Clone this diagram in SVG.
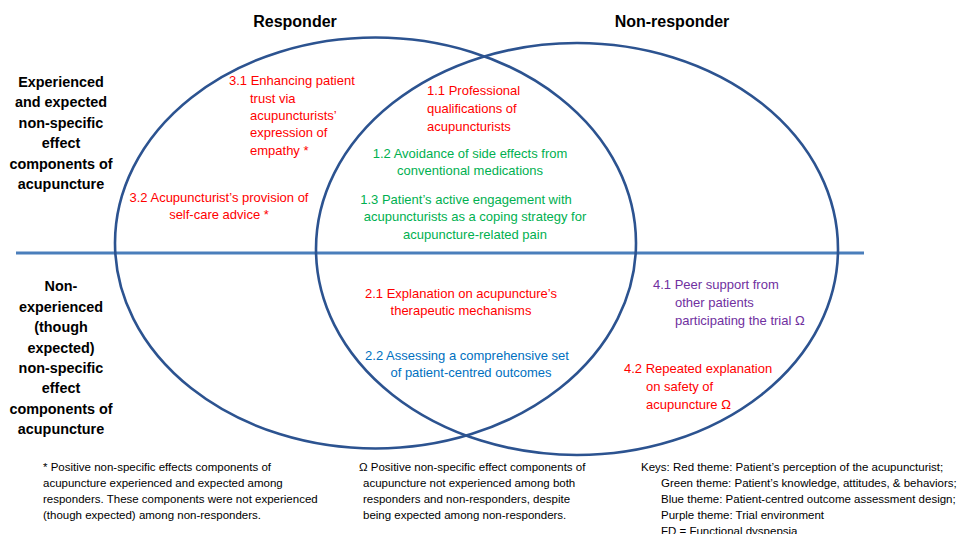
<svg xmlns="http://www.w3.org/2000/svg" width="973" height="534" viewBox="0 0 973 534">
<style>
text{font-family:"Liberation Sans",Arial,sans-serif}
.h{font-size:16px;font-weight:bold;fill:#000;text-anchor:middle}
.side{font-size:14.4px;font-weight:bold;fill:#000;text-anchor:middle}
.t{font-size:13px}
.r{fill:#ff0000}
.g{fill:#00b050}
.b{fill:#0070c0}
.p{fill:#7030a0}
.c{text-anchor:middle}
.f{font-size:11.5px;fill:#000}
.ell{fill:none;stroke:#2c5390;stroke-width:2.6}
.div{stroke:#4a7ebb;stroke-width:3}
</style>
<rect width="973" height="534" fill="#fff"/>
<g id="connectors">
<line class="div" x1="16" y1="253" x2="864" y2="253"/>
</g>
<g id="responder">
<ellipse class="ell" cx="375.5" cy="243" rx="260.5" ry="205.5"/>
<text class="h" x="295" y="27">Responder</text>
</g>
<g id="non-responder">
<ellipse class="ell" cx="577" cy="249" rx="261" ry="206"/>
<text class="h" x="672" y="27">Non-responder</text>
</g>
<g id="row-experienced">
<text class="side" x="61" y="87">Experienced</text>
<text class="side" x="61" y="107">and expected</text>
<text class="side" x="61" y="128">non-specific</text>
<text class="side" x="61" y="148">effect</text>
<text class="side" x="61" y="169">components of</text>
<text class="side" x="61" y="189">acupuncture</text>
</g>
<g id="row-non-experienced">
<text class="side" x="61" y="291">Non-</text>
<text class="side" x="61" y="312">experienced</text>
<text class="side" x="61" y="332">(though</text>
<text class="side" x="61" y="353">expected)</text>
<text class="side" x="61" y="373">non-specific</text>
<text class="side" x="61" y="393">effect</text>
<text class="side" x="61" y="414">components of</text>
<text class="side" x="61" y="434">acupuncture</text>
</g>
<g id="n3-1">
<text class="t r" x="229" y="85">3.1 Enhancing patient</text>
<text class="t r" x="250" y="103">trust via</text>
<text class="t r" x="250" y="120">acupuncturists’</text>
<text class="t r" x="250" y="137">expression of</text>
<text class="t r" x="250" y="155">empathy *</text>
</g>
<g id="n3-2">
<text class="t r c" x="219" y="202">3.2 Acupuncturist’s provision of</text>
<text class="t r c" x="219" y="219">self-care advice *</text>
</g>
<g id="n1-1">
<text class="t r" x="427" y="95">1.1 Professional</text>
<text class="t r" x="427" y="113">qualifications of</text>
<text class="t r" x="427" y="131">acupuncturists</text>
</g>
<g id="n1-2">
<text class="t g c" x="470" y="158">1.2 Avoidance of side effects from</text>
<text class="t g c" x="470" y="175">conventional medications</text>
</g>
<g id="n1-3">
<text class="t g c" x="466" y="204">1.3 Patient’s active engagement with</text>
<text class="t g c" x="475" y="221">acupuncturists as a coping strategy for</text>
<text class="t g c" x="475" y="239">acupuncture-related pain</text>
</g>
<g id="n2-1">
<text class="t r c" x="461" y="298">2.1 Explanation on acupuncture’s</text>
<text class="t r c" x="461" y="315">therapeutic mechanisms</text>
</g>
<g id="n2-2">
<text class="t b c" x="467" y="360">2.2 Assessing a comprehensive set</text>
<text class="t b c" x="471" y="377">of patient-centred outcomes</text>
</g>
<g id="n4-1">
<text class="t p" x="653" y="289">4.1 Peer support from</text>
<text class="t p" x="675" y="307">other patients</text>
<text class="t p" x="675" y="325">participating the trial Ω</text>
</g>
<g id="n4-2">
<text class="t r" x="624" y="373">4.2 Repeated explanation</text>
<text class="t r" x="646" y="391">on safety of</text>
<text class="t r" x="646" y="409">acupuncture Ω</text>
</g>
<g id="note-star">
<text class="f" x="43" y="471">* Positive non-specific effects components of</text>
<text class="f" x="43" y="487">acupuncture experienced and expected among</text>
<text class="f" x="43" y="503">responders. These components were not experienced</text>
<text class="f" x="43" y="519">(though expected) among non-responders.</text>
</g>
<g id="note-omega">
<text class="f" x="359" y="471">Ω Positive non-specific effect components of</text>
<text class="f" x="363" y="487">acupuncture not experienced among both</text>
<text class="f" x="363" y="503">responders and non-responders, despite</text>
<text class="f" x="363" y="519">being expected among non-responders.</text>
</g>
<g id="keys">
<text class="f" x="641" y="471">Keys: Red theme: Patient’s perception of the acupuncturist;</text>
<text class="f" x="661" y="487">Green theme: Patient’s knowledge, attitudes, &amp; behaviors;</text>
<text class="f" x="661" y="503">Blue theme: Patient-centred outcome assessment design;</text>
<text class="f" x="661" y="519">Purple theme: Trial environment</text>
<text class="f" x="661" y="535">FD = Functional dyspepsia</text>
</g>
</svg>
